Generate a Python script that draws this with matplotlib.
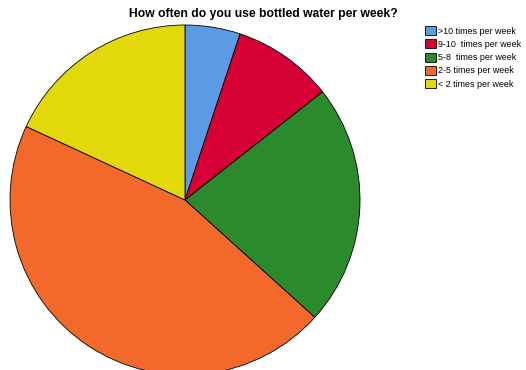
import matplotlib.pyplot as plt
from matplotlib.patches import Patch

# share of respondents per frequency band (percent)
labels = [">10 times per week", "9-10  times per week", "5-8  times per week",
          "2-5 times per week", "< 2 times per week"]
shares = [5.1, 9.3, 22.3, 45.2, 18.1]
colors = ["#5B9BE6", "#D70035", "#2B8A2B", "#F2692B", "#E2D80C"]

plt.rcParams['font.family'] = ['Liberation Sans', 'DejaVu Sans']

fig = plt.figure(figsize=(5.26, 3.70), dpi=100)
W, H = 526, 370

# pie axes: centre at (185, 200) px, radius 175 px; bottom runs off the canvas
ax = fig.add_axes([10 / W, (H - 375) / H, 350 / W, 350 / H])
ax.pie(shares, colors=colors, startangle=90, counterclock=False, radius=1,
       wedgeprops=dict(edgecolor="black", linewidth=0.6))
ax.set_xlim(-1, 1)
ax.set_ylim(-1, 1)
ax.set_aspect("equal")
ax.axis("off")

fig.text(263 / W, 1 - 14 / H, "How often do you use bottled water per week?",
         ha="center", va="center", fontsize=8.7, fontweight="bold")

handles = [Patch(facecolor=c, edgecolor="black", linewidth=0.6) for c in colors]
fig.legend(handles, labels, loc="upper left", bbox_to_anchor=(425 / W, 1 - 26 / H),
           frameon=False, fontsize=6.4, handlelength=1.2, handleheight=1.2,
           handletextpad=0.25, labelspacing=0.42, borderpad=0, borderaxespad=0)

fig.savefig("out.png", dpi=100)
